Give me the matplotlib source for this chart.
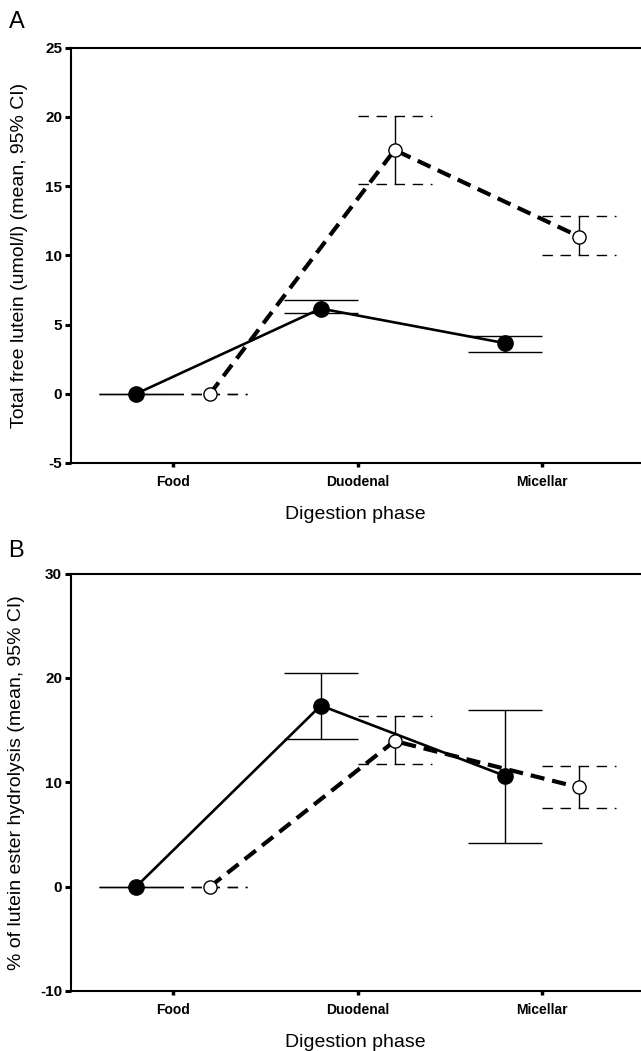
import matplotlib
matplotlib.use("Agg")
import matplotlib.pyplot as plt
import numpy as np

# ---- data ----
phases = ["Food", "Duodenal", "Micellar"]

a_solid_mean = [0.0, 6.15, 3.65]
a_solid_lo = [0.0, 5.8, 3.05]
a_solid_hi = [0.0, 6.75, 4.2]
a_open_mean = [0.0, 17.6, 11.35]
a_open_lo = [0.0, 15.15, 10.0]
a_open_hi = [0.0, 20.05, 12.8]

b_solid_mean = [0.0, 17.35, 10.6]
b_solid_lo = [0.0, 14.1, 4.2]
b_solid_hi = [0.0, 20.45, 16.9]
b_open_mean = [0.0, 13.95, 9.5]
b_open_lo = [0.0, 11.75, 7.55]
b_open_hi = [0.0, 16.3, 11.55]

a_yticks = [-5, 0, 5, 10, 15, 20, 25]
b_yticks = [-10, 0, 10, 20, 30]

plt.rcParams["font.family"] = ["Liberation Sans", "DejaVu Sans"]

W, H = 641, 1051
fig = plt.figure(figsize=(W / 100, H / 100), dpi=100)

def rect(l, t, r, b):
    return [l / W, 1 - b / H, (r - l) / W, (b - t) / H]

axA = fig.add_axes(rect(70.5, 47.5, 641, 463))
axB = fig.add_axes(rect(70.5, 573.5, 641, 991))

OFF = 0.2
CAP = 0.2
dash_cap = (0, (7.5, 5.5))

def draw(ax, sm, slo, shi, om, olo, ohi, ylim, yticks, ylabel, ylab_x):
    x = np.arange(len(phases))
    xs = x - OFF
    xo = x + OFF
    # error bars
    ax.vlines(xs, slo, shi, colors="black", lw=1.0, zorder=2)
    ax.hlines(slo, xs - CAP, xs + CAP, colors="black", lw=1.0, zorder=2)
    ax.hlines(shi, xs - CAP, xs + CAP, colors="black", lw=1.0, zorder=2)
    ax.vlines(xo, olo, ohi, colors="black", lw=1.0, zorder=2)
    ax.hlines(olo, xo - CAP, xo + CAP, colors="black", lw=1.0, linestyles=[dash_cap], zorder=2)
    ax.hlines(ohi, xo - CAP, xo + CAP, colors="black", lw=1.0, linestyles=[dash_cap], zorder=2)
    # lines
    ax.plot(xs, sm, color="black", lw=1.9, zorder=3)
    ax.plot(xo, om, color="black", lw=3.0, linestyle=(0, (3.4, 1.9)), zorder=4)
    # markers
    ax.plot(xs, sm, "o", color="black", ms=11, zorder=5)
    ax.plot(xo, om, "o", mfc="white", mec="black", mew=1.0, ms=9.5, zorder=5)

    ax.set_xlim(-0.556, 2.535)
    ax.set_ylim(*ylim)
    ax.set_xticks(x)
    ax.set_xticklabels(phases, fontsize=10, fontweight="bold")
    ax.set_yticks(yticks)
    ax.set_yticklabels([str(t) for t in yticks], fontsize=11, fontweight="bold")
    ax.tick_params(axis="y", direction="out", length=4, width=2.2, pad=2)
    ax.tick_params(axis="x", direction="out", length=3, width=2.5, pad=6)
    ax.spines["right"].set_visible(False)
    for s in ("left", "top", "bottom"):
        ax.spines[s].set_linewidth(1.5)
    ax.set_ylabel(ylabel, fontsize=14)
    ax.yaxis.set_label_coords(ylab_x, 0.5)
    ax.set_xlabel("Digestion phase", fontsize=14, labelpad=12)

draw(axA, a_solid_mean, a_solid_lo, a_solid_hi, a_open_mean, a_open_lo, a_open_hi,
     (-5, 25), a_yticks, "Total free lutein (umol/l) (mean, 95% CI)", -0.0745)
draw(axB, b_solid_mean, b_solid_lo, b_solid_hi, b_open_mean, b_open_lo, b_open_hi,
     (-10, 30), b_yticks, "% of lutein ester hydrolysis (mean, 95% CI)", -0.080)

fig.text(17 / W, 1 - 22 / H, "A", fontsize=17, ha="center", va="center")
fig.text(16 / W, 1 - 551 / H, "B", fontsize=17, ha="center", va="center")

fig.savefig("out.png", dpi=100)
